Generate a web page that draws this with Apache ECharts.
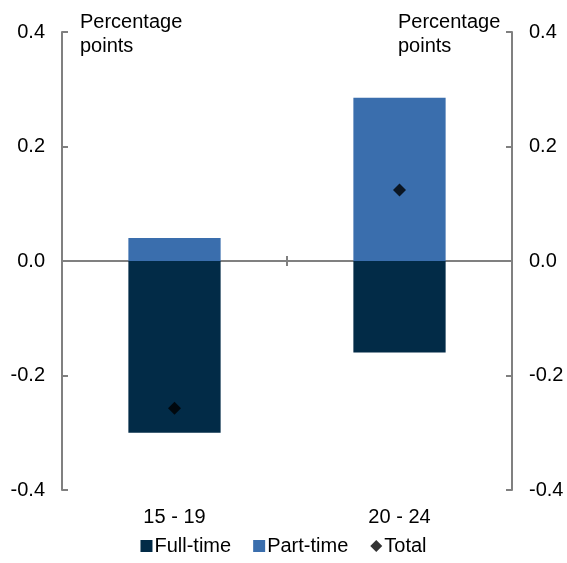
<!DOCTYPE html>
<html>
<head>
<meta charset="utf-8">
<script src="https://cdn.jsdelivr.net/npm/echarts@6/dist/echarts.min.js"></script>
<style>
  html, body { margin: 0; padding: 0; background: #fff; }
  #chart { width: 567px; height: 563px; }
</style>
</head>
<body>
<div id="chart"></div>
<script>
var categories = ['15 - 19', '20 - 24'];
var fullTime = [-0.30, -0.16];
var partTime = [0.04, 0.285];
var total = [-0.257, 0.124];
var yTicks = { min: -0.4, max: 0.4, interval: 0.2 };

var font = 'Liberation Sans, Arial, sans-serif';
var grey = '#808080';
var fs = 20;

var chart = echarts.init(document.getElementById('chart'));

var yAxisBase = function (pos) {
    return {
        type: 'value',
        position: pos,
        min: yTicks.min,
        max: yTicks.max,
        interval: yTicks.interval,
        axisLine: { show: true, onZero: false, lineStyle: { color: grey, width: 2 } },
        axisTick: { show: true, inside: true, length: 6, lineStyle: { color: grey, width: 2 } },
        splitLine: { show: false },
        axisLabel: {
            color: '#000', fontSize: fs, fontFamily: font, margin: 17,
            formatter: function (v) { return v.toFixed(1); }
        }
    };
};

var option = {
    animation: false,
    grid: { left: 62, right: 55, top: 32, bottom: 73, containLabel: false },
    title: [
        { text: 'Percentage\npoints', left: 75, top: 5,
          textStyle: { fontSize: fs, fontWeight: 'normal', color: '#000', fontFamily: font, lineHeight: 24 } },
        { text: 'Percentage\npoints', left: 393, top: 5,
          textStyle: { fontSize: fs, fontWeight: 'normal', color: '#000', fontFamily: font, lineHeight: 24 } }
    ],
    legend: {
        bottom: 2,
        left: 'center',
        itemWidth: 12,
        itemHeight: 12,
        itemGap: 22,
        textStyle: { fontSize: fs, color: '#000', fontFamily: font, padding: [0, 0, 0, -3] },
        data: [
            { name: 'Full-time', icon: 'rect' },
            { name: 'Part-time', icon: 'rect' },
            { name: 'Total', icon: 'diamond', itemStyle: { color: '#000' } }
        ]
    },
    xAxis: [
        {
            type: 'category',
            data: categories,
            axisLine: { onZero: true, lineStyle: { color: grey, width: 2 } },
            axisTick: { show: true, length: 5, lineStyle: { color: grey, width: 2 } },
            axisLabel: { show: false }
        },
        {
            type: 'category',
            data: categories,
            position: 'bottom',
            axisLine: { show: false, onZero: true },
            axisTick: { show: true, inside: true, length: 5, lineStyle: { color: grey, width: 2 } },
            axisLabel: { show: false }
        },
        {
            type: 'category',
            data: categories,
            position: 'bottom',
            axisLine: { show: false, onZero: false },
            axisTick: { show: false },
            axisLabel: { color: '#000', fontSize: fs, fontFamily: font, margin: 17 }
        }
    ],
    yAxis: [yAxisBase('left'), yAxisBase('right')],
    series: [
        {
            name: 'Full-time',
            type: 'bar',
            stack: 'a',
            barWidth: '41%',
            itemStyle: { color: '#022B47' },
            data: fullTime
        },
        {
            name: 'Part-time',
            type: 'bar',
            stack: 'a',
            barWidth: '41%',
            itemStyle: { color: '#3A6EAD' },
            data: partTime
        },
        {
            name: 'Total',
            type: 'scatter',
            symbol: 'diamond',
            symbolSize: 13,
            itemStyle: { color: '#000' },
            z: 5,
            data: total
        }
    ]
};

chart.setOption(option);
</script>
</body>
</html>
